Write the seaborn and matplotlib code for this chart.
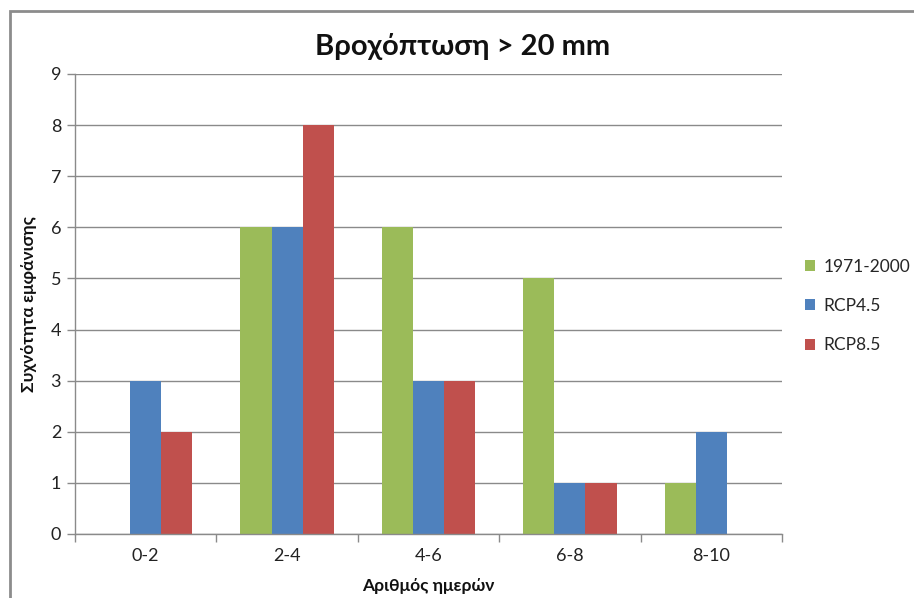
import matplotlib
matplotlib.use("Agg")
import matplotlib.pyplot as plt
import seaborn as sns
import pandas as pd
from matplotlib.patches import Rectangle

categories = ["0-2", "2-4", "4-6", "6-8", "8-10"]
series_names = ["1971-2000", "RCP4.5", "RCP8.5"]
baseline = [0, 6, 6, 5, 1]
rcp45 = [3, 6, 3, 1, 2]
rcp85 = [2, 8, 3, 1, 0]
yticks = list(range(0, 10))

colors = ["#9BBB59", "#4F81BD", "#C0504D"]

df = pd.DataFrame({
    "cat": categories * 3,
    "series": [s for s in series_names for _ in categories],
    "value": baseline + rcp45 + rcp85,
})

sns.set_theme(style="white")
plt.rcParams["font.family"] = ["Lato", "DejaVu Sans"]

fig = plt.figure(figsize=(9.14, 5.98), dpi=100)
ax = fig.add_axes([75 / 914, 1 - 534 / 598, (782 - 75) / 914, (534 - 74) / 598])

sns.barplot(data=df, x="cat", y="value", hue="series", palette=colors,
            width=0.66, saturation=1, ax=ax, legend=True)
for p in ax.patches:
    p.set_edgecolor("none")

ax.set_xlim(-0.5, len(categories) - 0.5)
ax.set_ylim(0, 9)
ax.set_yticks(yticks)
ax.set_yticklabels([str(t) for t in yticks])
ax.yaxis.grid(True, color="#8a8a8a", linewidth=1)
ax.set_axisbelow(True)

for side in ["top", "right"]:
    ax.spines[side].set_visible(False)
for side in ["left", "bottom"]:
    ax.spines[side].set_color("#8a8a8a")
    ax.spines[side].set_linewidth(1)

# category separators as x ticks
ax.set_xticks([i - 0.5 for i in range(len(categories) + 1)], minor=False)
ax.set_xticklabels([""] * (len(categories) + 1))
ax.set_xticks(range(len(categories)), minor=True)
ax.set_xticklabels(categories, minor=True)
ax.tick_params(axis="x", which="major", direction="out", length=6, color="#8a8a8a", width=1, bottom=True)
ax.tick_params(axis="x", which="minor", length=0, labelsize=13, pad=10, colors="#222222")
ax.tick_params(axis="y", direction="out", length=6, color="#8a8a8a", width=1, left=True,
               labelsize=13, pad=4, labelcolor="#222222")

ax.set_xlabel("Αριθμός ημερών", fontsize=12.5, fontweight="bold", labelpad=10, color="#111111")
ax.set_ylabel("Συχνότητα εμφάνισης", fontsize=12.5, fontweight="bold", labelpad=10, color="#111111")

fig.text(463 / 914, 1 - 47 / 598, "Βροχόπτωση > 20 mm", ha="center", va="center",
         fontsize=21, fontweight="bold", color="#111111")

handles, labels = ax.get_legend_handles_labels()
ax.legend(handles, labels, loc="center left", bbox_to_anchor=(805 / 914, 1 - 306 / 598),
          bbox_transform=fig.transFigure, frameon=False, fontsize=12.5, handlelength=0.6,
          handleheight=0.6, handletextpad=0.45, labelspacing=1.35, borderaxespad=0,
          borderpad=0)

# chart frame
fig.patches.append(Rectangle((10 / 914, -0.1), 1.2, 1 - 11 / 598 + 0.1, transform=fig.transFigure,
                             fill=False, edgecolor="#8c8c8c", linewidth=2, zorder=0))

fig.savefig("out.png", dpi=100)
